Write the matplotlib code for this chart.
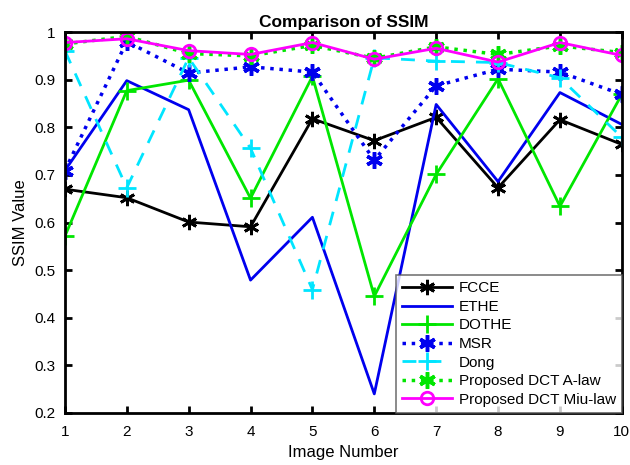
import matplotlib
matplotlib.use('Agg')
import matplotlib.pyplot as plt

plt.rcParams['font.family'] = ['Liberation Sans', 'DejaVu Sans']

images = [1, 2, 3, 4, 5, 6, 7, 8, 9, 10]

fcce = [0.670, 0.652, 0.601, 0.591, 0.818, 0.772, 0.821, 0.673, 0.816, 0.764]
ethe = [0.709, 0.898, 0.837, 0.479, 0.611, 0.240, 0.848, 0.686, 0.873, 0.806]
dothe = [0.571, 0.877, 0.899, 0.651, 0.907, 0.445, 0.701, 0.902, 0.634, 0.869]
msr = [0.709, 0.980, 0.914, 0.927, 0.916, 0.731, 0.887, 0.922, 0.916, 0.869]
dong = [0.961, 0.673, 0.946, 0.756, 0.459, 0.946, 0.939, 0.936, 0.904, 0.779]
alaw = [0.975, 0.991, 0.955, 0.950, 0.972, 0.945, 0.969, 0.953, 0.971, 0.957]
miulaw = [0.978, 0.986, 0.961, 0.953, 0.978, 0.943, 0.966, 0.937, 0.978, 0.951]

# six-armed asterisk like MATLAB's '*'
star = (6, 2, 0)

fig = plt.figure(figsize=(6.3, 4.65), dpi=100)
ax = fig.add_axes([0.103, 0.112, 0.884, 0.819])

ax.plot(images, fcce, '-', marker=star, color='black', lw=2, ms=11, mew=2, label='FCCE')
ax.plot(images, ethe, '-', color='#0000ee', lw=2, label='ETHE')
ax.plot(images, dothe, '-+', color='#00e600', lw=2, ms=13, mew=2, label='DOTHE')
ax.plot(images, msr, ':', marker=star, color='#0000ee', lw=2.5, ms=12, mew=2.5, label='MSR')
ax.plot(images, dong, '--+', color='#00e5ff', lw=2, ms=13, mew=2, dashes=(5, 4), label='Dong')
ax.plot(images, alaw, ':', marker=star, color='#00e600', lw=2.5, ms=12, mew=2.5, label='Proposed DCT A-law')
ax.plot(images, miulaw, '-o', color='#ff00ff', lw=2, ms=9, mew=2, mfc='none', label='Proposed DCT Miu-law')

ax.set_xlim(1, 10)
ax.set_ylim(0.2, 1.0)
ax.set_xticks(images)
ax.set_yticks([0.2, 0.3, 0.4, 0.5, 0.6, 0.7, 0.8, 0.9, 1.0])
ax.set_yticklabels(['0.2', '0.3', '0.4', '0.5', '0.6', '0.7', '0.8', '0.9', '1'])
ax.tick_params(direction='in', top=True, right=True, width=2, length=5, labelsize=11, pad=7)
ax.tick_params(axis='x', pad=9)
for s in ax.spines.values():
    s.set_linewidth(2)

ax.set_xlabel('Image Number', fontsize=12, labelpad=4)
ax.set_ylabel('SSIM Value', fontsize=12)
ax.set_title('Comparison of SSIM', fontsize=12.5, fontweight='bold', pad=4)

leg = ax.legend(loc='lower right', fontsize=11, borderaxespad=0, fancybox=False,
                handlelength=3.3, labelspacing=0.3, borderpad=0.4, handletextpad=0.4)
leg.get_frame().set_edgecolor('#555555')
leg.get_frame().set_linewidth(1.2)

fig.savefig('out.png')
